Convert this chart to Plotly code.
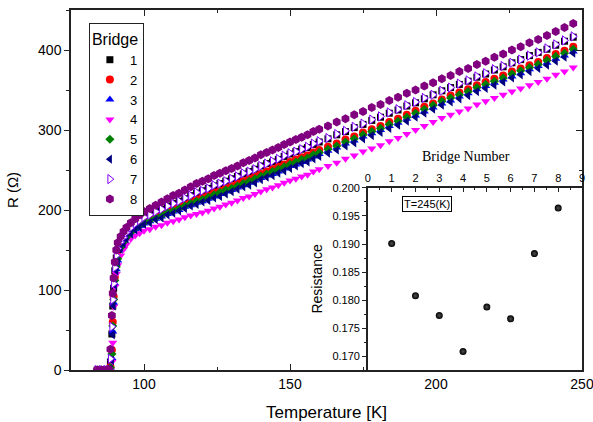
import plotly.graph_objects as go

# ---------------- data ----------------
temperature_K = [84, 85.5, 87, 88, 88.5, 89, 89.3, 89.6, 90, 90.5, 91,
                 92, 93, 94, 95.5, 97, 98.5,
                 100, 102, 104, 106, 108, 110, 112, 114, 116, 118,
                 120, 122, 124, 126, 128, 130, 132, 134, 136, 138,
                 140, 142, 144, 146, 148, 150, 152, 154, 156, 158,
                 160,
                 163, 166, 169, 172, 175, 178, 181, 184, 187, 190,
                 193, 196, 199, 202, 205, 208, 211, 214, 217, 220,
                 223, 226, 229, 232, 235, 238, 241, 244, 247]

R_bridge1 = [0, 0, 0, 0, 10, 45, 80, 102, 124, 140, 150,
             160, 166, 171, 178, 182, 187,
             191, 194, 198, 201, 205, 208, 211, 214, 218, 221,
             224, 227, 230, 233, 236, 239, 242, 245, 248, 251,
             255, 258, 260, 263, 267, 270, 273, 276, 278, 282,
             285,
             289, 294, 298, 303, 307, 312, 316, 321, 325, 330,
             334, 339, 344, 349, 353, 357, 361, 366, 370, 375,
             379, 384, 388, 393, 397, 401, 406, 411, 416]

R_bridge2 = [0, 0, 0, 0, 4, 25, 60, 92, 116, 132, 142,
             155, 162, 167, 174, 178, 182,
             186, 189, 192, 195, 198, 201, 204, 207, 210, 213,
             216, 218, 222, 224, 227, 230, 233, 236, 239, 242,
             245, 248, 251, 254, 257, 260, 263, 266, 268, 272,
             275,
             279, 283, 288, 292, 297, 301, 305, 310, 314, 319,
             324, 329, 333, 338, 343, 347, 351, 356, 360, 364,
             368, 373, 377, 381, 385, 390, 395, 399, 404]

R_bridge3 = [0, 0, 0, 0, 2, 15, 48, 84, 108, 126, 137,
             152, 159, 165, 171, 176, 180,
             183, 186, 189, 192, 195, 198, 200, 204, 206, 209,
             211, 214, 217, 220, 223, 225, 228, 231, 234, 237,
             240, 243, 245, 248, 252, 255, 257, 260, 263, 267,
             270,
             274, 278, 283, 287, 292, 296, 300, 305, 309, 314,
             318, 323, 328, 333, 337, 342, 346, 351, 355, 359,
             363, 367, 371, 376, 380, 384, 389, 393, 398]

R_bridge4 = [0, 0, 0, 0, 0, 10, 34, 79, 104, 120, 131,
             143, 151, 157, 164, 168, 171,
             174, 176, 179, 181, 184, 186, 188, 191, 193, 195,
             197, 199, 202, 204, 207, 209, 212, 215, 217, 220,
             223, 226, 228, 231, 234, 237, 239, 242, 244, 248,
             251,
             255, 259, 264, 268, 273, 277, 281, 286, 290, 295,
             300, 305, 310, 315, 319, 323, 327, 332, 336, 340,
             344, 348, 352, 356, 360, 364, 369, 373, 378]

R_bridge5 = [0, 0, 0, 0, 3, 20, 55, 88, 112, 129, 139,
             153, 160, 166, 172, 177, 181,
             184, 187, 190, 193, 197, 199, 202, 205, 208, 211,
             213, 216, 219, 222, 225, 227, 230, 233, 236, 239,
             242, 245, 248, 251, 254, 257, 260, 263, 265, 269,
             272,
             276, 280, 285, 289, 294, 298, 302, 307, 311, 316,
             321, 326, 331, 336, 340, 344, 348, 353, 357, 361,
             365, 370, 374, 378, 382, 387, 392, 396, 401]

R_bridge6 = [0, 0, 0, 0, 1, 12, 44, 80, 106, 124, 135,
             151, 158, 164, 170, 175, 178,
             182, 184, 188, 190, 194, 196, 199, 202, 205, 207,
             210, 212, 215, 217, 220, 223, 226, 229, 231, 234,
             238, 241, 243, 246, 249, 252, 255, 258, 260, 264,
             267,
             271, 275, 280, 284, 289, 293, 297, 302, 306, 311,
             316, 321, 326, 331, 335, 339, 343, 348, 352, 356,
             360, 365, 369, 373, 377, 381, 386, 391, 396]

R_bridge7 = [0, 0, 0, 0, 14, 54, 88, 108, 128, 143, 152,
             160, 166, 172, 178, 183, 187,
             191, 194, 198, 201, 205, 208, 211, 215, 218, 222,
             224, 227, 231, 233, 236, 239, 242, 246, 248, 251,
             255, 258, 261, 264, 268, 271, 273, 276, 279, 283,
             286,
             290, 295, 299, 304, 308, 313, 317, 322, 326, 331,
             335, 340, 344, 349, 353, 358, 362, 367, 371, 376,
             380, 384, 388, 393, 397, 402, 407, 412, 417]

R_bridge8 = [0, 0, 0, 1, 26, 68, 96, 115, 135, 150, 159,
             167, 173, 178, 184, 189, 194,
             198, 202, 206, 210, 214, 218, 221, 225, 229, 233,
             236, 239, 243, 246, 249, 252, 255, 259, 262, 265,
             269, 272, 275, 278, 282, 285, 288, 291, 294, 298,
             301,
             305, 310, 314, 319, 323, 328, 332, 337, 341, 346,
             350, 355, 359, 364, 368, 373, 377, 382, 386, 391,
             395, 400, 404, 409, 413, 418, 423, 428, 433]

bridge_labels = ["1", "2", "3", "4", "5", "6", "7", "8"]

# inset: resistance of each bridge at T = 245 K
inset_bridge_number = [1, 2, 3, 4, 5, 6, 7, 8]
inset_resistance = [0.1901, 0.1808, 0.1773, 0.1709, 0.1788, 0.1767, 0.1883, 0.1964]

# ---------------- styling ----------------
series = [R_bridge1, R_bridge2, R_bridge3, R_bridge4,
          R_bridge5, R_bridge6, R_bridge7, R_bridge8]
styles = [
    dict(symbol="square", size=7, color="#000000"),
    dict(symbol="circle", size=8, color="#FF0000"),
    dict(symbol="triangle-up", size=8, color="#0000FF"),
    dict(symbol="triangle-down", size=8, color="#FF00FF"),
    dict(symbol="diamond", size=7, color="#008000"),
    dict(symbol="triangle-left", size=8, color="#000080"),
    dict(symbol="triangle-right", size=8, color="#FFFFFF",
         line=dict(color="#8000FF", width=1)),
    dict(symbol="hexagon", size=9, color="#800080"),
]

FONT = "Liberation Sans, Arial, sans-serif"
SERIF = "Liberation Serif, Times New Roman, serif"
AX = "#222222"

fig = go.Figure()
for lab, vals, st in zip(bridge_labels, series, styles):
    m = dict(st)
    if "line" not in m:
        m["line"] = dict(width=0)
    fig.add_trace(go.Scatter(x=temperature_K, y=vals, mode="markers",
                             name=lab, marker=m, xaxis="x", yaxis="y"))

# empty helper trace so the right-hand (inside-tick) frame axis is drawn
fig.add_trace(go.Scatter(x=[], y=[], mode="markers", showlegend=False,
                         hoverinfo="skip", xaxis="x", yaxis="y3"))

fig.add_trace(go.Scatter(
    x=inset_bridge_number, y=inset_resistance, mode="markers",
    showlegend=False, xaxis="x2", yaxis="y2",
    marker=dict(symbol="circle", size=7, color="#000000",
                gradient=dict(type="radial", color="#505050"),
                line=dict(width=0))))

fig.update_layout(
    width=593, height=422,
    margin=dict(l=71, r=11, t=10, b=52),
    paper_bgcolor="white", plot_bgcolor="white",
    font=dict(family=FONT, color="#000000", size=14),
    xaxis=dict(domain=[0, 1], range=[75, 250], tick0=0, dtick=50,
               automargin=False, ticklabeloverflow="allow",
               ticks="inside", ticklen=6, tickwidth=1.2, tickcolor=AX,
               minor=dict(dtick=25, ticks="inside", ticklen=3, tickcolor=AX),
               showline=True, linecolor=AX, linewidth=1.5, mirror="ticks",
               showgrid=False, zeroline=False,
               tickfont=dict(size=14),
               title=dict(text="Temperature [K]", font=dict(size=17), standoff=17)),
    yaxis=dict(domain=[0, 1], range=[0, 450], tick0=0, dtick=100,
               automargin=False,
               ticks="outside", ticklen=5, tickwidth=1.2, tickcolor=AX,
               minor=dict(dtick=50, ticks="outside", ticklen=3, tickcolor=AX),
               showline=True, linecolor=AX, linewidth=1.5,
               showgrid=False, zeroline=False,
               tickfont=dict(size=14),
               title=dict(text="R (Ω)", font=dict(size=15), standoff=16)),
    yaxis3=dict(overlaying="y", side="right", anchor="x", range=[0, 450],
                automargin=False,
                tick0=0, dtick=100, ticks="inside", ticklen=6, tickcolor=AX,
                minor=dict(dtick=50, ticks="inside", ticklen=3, tickcolor=AX),
                showticklabels=False, showline=True, linecolor=AX,
                linewidth=1.5, showgrid=False, zeroline=False),
    xaxis2=dict(domain=[0.581, 1], anchor="y2", side="top", range=[0, 9],
                automargin=False, ticklabeloverflow="allow",
                tick0=0, dtick=1, ticks="inside", ticklen=4, tickcolor=AX,
                minor=dict(dtick=0.5, ticks="inside", ticklen=2, tickcolor=AX),
                showline=True, linecolor=AX, linewidth=1.5,
                showgrid=False, zeroline=False,
                tickfont=dict(size=11)),
    yaxis2=dict(domain=[0, 0.506], anchor="x2", range=[0.1676, 0.2],
                automargin=False,
                tick0=0.17, dtick=0.005, tickformat=".3f",
                ticks="outside", ticklen=4, tickcolor=AX,
                minor=dict(dtick=0.0025, ticks="outside", ticklen=2, tickcolor=AX),
                showline=True, linecolor=AX, linewidth=1.5,
                showgrid=False, zeroline=False,
                tickfont=dict(size=11),
                title=dict(text="Resistance", font=dict(size=14), standoff=6)),
    legend=dict(x=0.035, y=0.964, xanchor="left", yanchor="top",
                bgcolor="white", bordercolor="#222222", borderwidth=1,
                font=dict(size=13),
                title=dict(text="Bridge", font=dict(size=16)),
                itemsizing="trace", tracegroupgap=0),
    showlegend=True,
    annotations=[
        dict(text="Bridge Number", xref="paper", yref="paper",
             x=0.773, y=0.594, xanchor="center", yanchor="middle",
             showarrow=False, font=dict(family=SERIF, size=14)),
        dict(text="T=245(K)", xref="x2", yref="y2", x=2.47, y=0.1972,
             xanchor="center", yanchor="middle", showarrow=False,
             font=dict(size=11), bordercolor="#000000", borderwidth=1,
             borderpad=1, bgcolor="white"),
    ],
)

fig.write_html("out.html",
               config={"displayModeBar": False},
               post_script="document.body.style.margin='0px';"
                           "document.body.style.overflow='hidden';")
